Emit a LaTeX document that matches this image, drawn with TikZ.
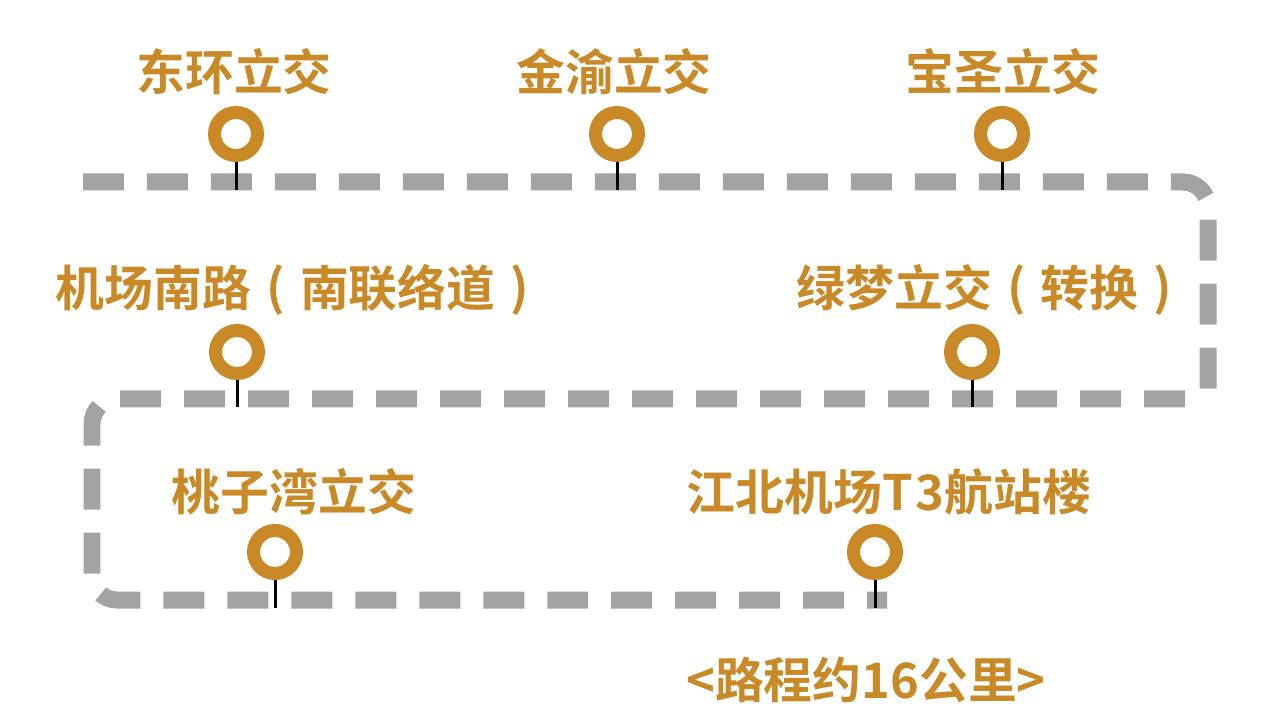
\documentclass[tikz,border=0pt]{standalone}
\usepackage{fontspec}
\setmainfont{Noto Sans CJK SC}
\newfontfamily\cjkb{Noto Sans CJK SC Bold}
\definecolor{ochre}{RGB}{200,137,38}
\definecolor{dashgray}{RGB}{163,163,163}
\newcommand\lparen{\makebox[1em][c]{\raisebox{0.02em}{(}}}
\newcommand\rparen{\makebox[1em][c]{\raisebox{0.02em}{)}}}
\begin{document}
\begin{tikzpicture}[x=0.02cm,y=-0.02cm,
  route/.style={draw=dashgray,line width=0.34cm,dash pattern=on 0.82cm off 0.46cm,rounded corners=0.5cm},
  ring/.style={circle,draw=ochre,line width=0.26cm,fill=white,minimum size=0.86cm,inner sep=0pt},
  stem/.style={draw=black,line width=0.06cm},
  label/.style={text=ochre,font=\cjkb\fontsize{27.8}{30}\selectfont,inner sep=0pt,anchor=center}]
\useasboundingbox (0,0) rectangle (1280,715);
\fill[white] (0,0) rectangle (1280,715);
% route
\coordinate (r0) at (83,182);
\coordinate (r1) at (1208,182);
\coordinate (r2) at (1208,392);
\coordinate (m0) at (1185,399);
\coordinate (m1) at (92,399);
\coordinate (m2) at (92,600);
\coordinate (m3) at (887,600);
\draw[route] (r0) -- (r1) -- (r2);
\draw[route] (m0) -- (m1) -- (m2) -- (m3);
% stations
\node[ring] (s1) at (236,134) {};
\node[ring] (s2) at (617,134) {};
\node[ring] (s3) at (1002,134) {};
\node[ring] (s4) at (237,352) {};
\node[ring] (s5) at (972,352) {};
\node[ring] (s6) at (275,552) {};
\node[ring] (s7) at (875,552) {};
\coordinate (b1) at (236,190);
\coordinate (b2) at (617,190);
\coordinate (b3) at (1002,190);
\coordinate (b4) at (237,407);
\coordinate (b5) at (972,407);
\coordinate (b6) at (275,608);
\coordinate (b7) at (875,608);
\foreach \i in {1,...,7}{\draw[stem] (s\i.south) -- (b\i);}
% labels
\node[label] (t1) at (234,72) {东环立交};
\node[label] (t2) at (614,72) {金渝立交};
\node[label] (t3) at (1003,72) {宝圣立交};
\node[label] (t4) at (300,290) {机场南路\lparen 南联络道\rparen};
\node[label] (t5) at (992,290) {绿梦立交\lparen 转换\rparen};
\node[label] (t6) at (294,492) {桃子湾立交};
\node[label] (t7) at (889,492) {江北机场T\kern0.06em 3航站楼};
\node[label] (t8) at (866,680) {<路程约16公里>};
\end{tikzpicture}
\end{document}
